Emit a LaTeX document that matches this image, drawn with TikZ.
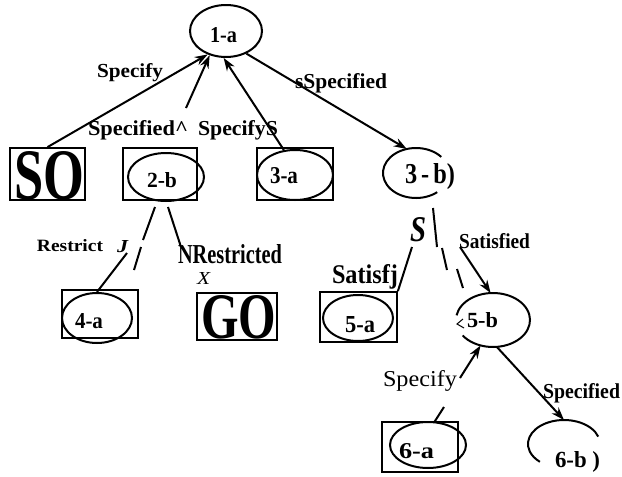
\documentclass[tikz,border=0pt]{standalone}
\usepackage{graphicx}
\usepackage{fontspec}
\setmainfont{Liberation Serif}
\usetikzlibrary{shapes.geometric,arrows.meta,calc}
\newcommand\rzb[3]{\resizebox{#1pt}{#2pt}{#3}}
\begin{document}
\begin{tikzpicture}[x=1pt,y=-1pt,
  lab/.style={anchor=base west,inner sep=0pt,outer sep=0pt},
  ell/.style={ellipse,draw,line width=2pt,inner sep=0pt},
  hid/.style={ellipse,inner sep=0pt,outer sep=0pt},
  box/.style={rectangle,draw,line width=1.8pt,inner sep=0pt},
  edge/.style={line width=2pt},
  arr/.style={edge,-{Stealth[length=13pt,width=9pt]}}]
\useasboundingbox (0,0) rectangle (622,477);

% ---- nodes ----
\node[ell,minimum width=72pt,minimum height=52pt] (n1a) at (226,31) {};
\node[lab] (t1a) at (210,42) {\rzb{27}{15}{\bfseries 1-a}};

\node[box,minimum width=75pt,minimum height=52pt] (bso) at (47.5,174) {};
\node[lab] (tso) at (14,199) {\rzb{70}{48}{\bfseries SO}};

\node[box,minimum width=74pt,minimum height=52pt] (b2b) at (160,174) {};
\node[ell,minimum width=76pt,minimum height=48pt] (n2b) at (166,177) {};
\node[lab] (t2b) at (147,187) {\rzb{30}{15}{\bfseries 2-b}};

\node[box,minimum width=76pt,minimum height=52pt] (b3a) at (295,174) {};
\node[ell,minimum width=76pt,minimum height=50pt] (n3a) at (295,175) {};
\node[lab] (t3a) at (270,183) {\rzb{28}{16}{\bfseries 3-a}};

\node[hid,minimum width=66pt,minimum height=50pt] (n3b) at (416,173) {};
\draw[edge] ($(n3b.center)+(40:33pt and 25pt)$) arc[start angle=40,end angle=310,x radius=33pt,y radius=25pt];
\node[lab] (t3b) at (405,183) {\rzb{50}{20}{\bfseries 3\,-\,b)}};

\node[box,minimum width=76pt,minimum height=48pt] (b4a) at (100,314) {};
\node[ell,minimum width=70pt,minimum height=50pt] (n4a) at (97,318) {};
\node[lab] (t4a) at (75,328) {\rzb{28}{15}{\bfseries 4-a}};

\node[box,minimum width=80pt,minimum height=47pt] (bgo) at (237,316.5) {};
\node[lab] (tgo) at (201,338) {\rzb{75}{43}{\bfseries GO}};

\node[box,minimum width=77pt,minimum height=50pt] (b5a) at (358.5,317) {};
\node[ell,minimum width=70pt,minimum height=46pt] (n5a) at (358,318) {};
\node[lab] (t5a) at (345,332) {\rzb{30}{16}{\bfseries 5-a}};

\node[hid,minimum width=74pt,minimum height=54pt] (n5b) at (493,320) {};
\draw[edge] ($(n5b.center)+(215:37pt and 27pt)$) arc[start angle=215,end angle=530,x radius=37pt,y radius=27pt];
\draw[line width=1pt] ($(n5b.center)+(-30,-1)$) -- ($(n5b.center)+(-36,4)$) -- ($(n5b.center)+(-29,8)$);
\node[lab] (t5b) at (467,327) {\rzb{31}{15}{\bfseries 5-b}};

\node[box,minimum width=76pt,minimum height=50pt] (b6a) at (420,447) {};
\node[ell,minimum width=76pt,minimum height=46pt] (n6a) at (428,445) {};
\node[lab] (t6a) at (399,458) {\rzb{35}{15}{\bfseries 6-a}};

\node[hid,minimum width=72pt,minimum height=48pt] (n6b) at (564,444) {};
\draw[edge] ($(n6b.center)+(18:36pt and 24pt)$) arc[start angle=18,end angle=228,x radius=36pt,y radius=24pt];
\node[lab] (t6b) at (555,467) {\rzb{45}{16}{\bfseries 6-b )}};

% ---- edge labels ----
\node[lab] (l1) at (97,77) {\rzb{66}{14}{\bfseries Specify}};
\node[lab] (l2) at (88,135) {\rzb{100}{15}{\bfseries Specified\textasciicircum}};
\node[lab] (l3) at (198,135) {\rzb{80}{15}{\bfseries SpecifyS}};
\node[lab] (l4) at (295,88) {\rzb{92}{15}{\bfseries sSpecified}};
\node[lab] (l5) at (37,251) {\rzb{66}{12}{\bfseries Restrict}};
\node[lab] (l6) at (117,252) {\rzb{11}{12}{\bfseries\itshape J}};
\node[lab] (l7) at (178,263.5) {\rzb{104}{19}{\bfseries NRestricted}};
\node[lab] (l8) at (197,284.5) {\rzb{13}{12}{\itshape X}};
\node[lab] (l9) at (410,241) {\rzb{16}{24}{\bfseries\itshape S}};
\node[lab] (l10) at (459,248) {\rzb{71}{15}{\bfseries Satisfied}};
\node[lab] (l11) at (332,283) {\rzb{66}{19}{\bfseries Satisfj}};
\node[lab] (l12) at (383,386) {\rzb{74}{16}{Specify}};
\node[lab] (l13) at (543,398) {\rzb{77}{15}{\bfseries Specified}};

% ---- connectors ----
\draw[arr] (bso.north) -- (n1a.232);
\coordinate (c2b) at (186,108);
\draw[arr] (c2b) -- (n1a.236);
\draw[arr] (n3a.114) -- (n1a.265);
\draw[arr] (n1a.312) -- (n3b.111);

\coordinate (r1) at (155,207);
\coordinate (r2) at (143,240);
\coordinate (r3) at (141,247);
\coordinate (r4) at (134,270);
\coordinate (r5) at (127,253);
\draw[edge] (r1) -- (r2) (r3) -- (r4);
\draw[edge] (r5) -- (n4a.north);

\coordinate (g1) at (168,207);
\coordinate (g2) at (181,247);
\draw[edge] (g1) -- (g2);

\coordinate (s1) at (412,247);
\draw[edge] (s1) -- (b5a.north east);

\coordinate (d1) at (433,208);
\coordinate (d2) at (437,247);
\coordinate (d3) at (442,248);
\coordinate (d4) at (447,270);
\coordinate (d5) at (457,269);
\coordinate (d6) at (463,288);
\draw[edge] (d1) -- (d2) (d3) -- (d4) (d5) -- (d6);

\coordinate (a1) at (460,247);
\draw[arr] (a1) -- (n5b.95);

\coordinate (p1) at (444,407);
\draw[edge] (n6a.74) -- (p1);
\coordinate (p2) at (460,378);
\draw[arr] (p2) -- (n5b.244);

\draw[arr] (n5b.278) -- (n6b.90);
\end{tikzpicture}
\end{document}
